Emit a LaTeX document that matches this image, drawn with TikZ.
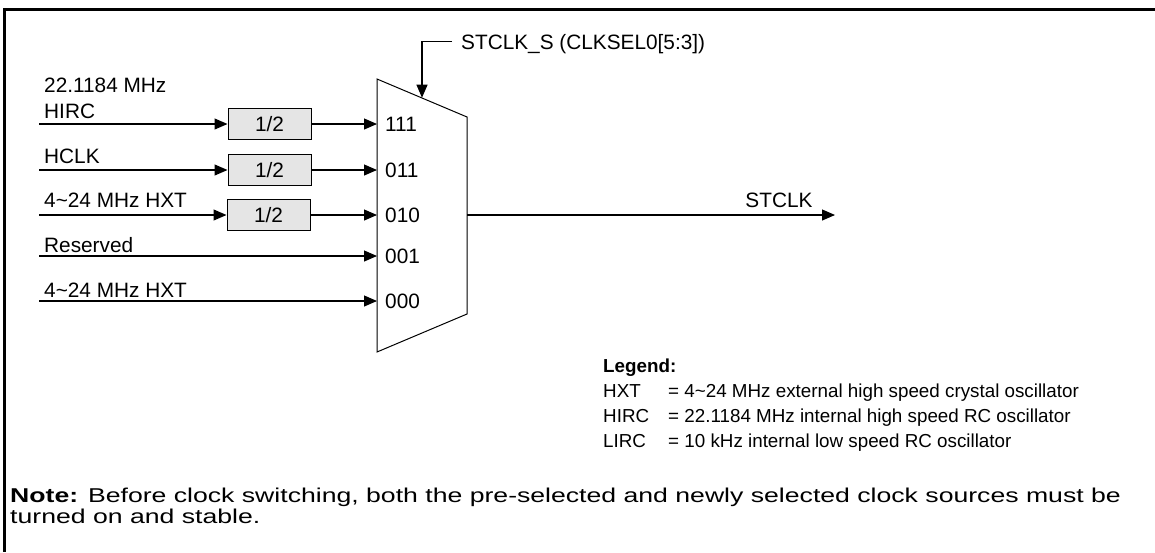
\documentclass[tikz,border=0pt]{standalone}
\usepackage{fontspec}
\setmainfont{Liberation Sans}
\usetikzlibrary{arrows.meta}
\begin{document}
\begin{tikzpicture}[x=1pt,y=-1pt,
  wire/.style={line width=1.1pt,-{Triangle[length=13pt,width=11pt]}},
  divbox/.style={draw,line width=1pt,fill=black!10,minimum width=83pt,minimum height=31pt,inner sep=0pt,font=\fontsize{20.8}{24}\selectfont},
  lbl/.style={anchor=base west,inner sep=0pt,font=\fontsize{20.8}{24}\selectfont},
  leg/.style={anchor=base west,inner sep=0pt,font=\fontsize{18.8}{23}\selectfont},
  note/.style={anchor=base west,inner sep=0pt,font=\fontsize{20}{24}\selectfont}]
\useasboundingbox (0,0) rectangle (1155,552);
% frame
\draw[line width=3pt] (4.5,9.5) -- (1155,9.5);
\draw[line width=3pt] (4.5,8) -- (4.5,552);
% mux
\coordinate (mtl) at (377,79);
\coordinate (mtr) at (467,117);
\coordinate (mbr) at (467,314);
\coordinate (mbl) at (377,352);
\draw[line width=1pt] (mtl) -- (mtr) -- (mbr) -- (mbl) -- cycle;
\coordinate (in111) at (377,124);
\coordinate (in011) at (377,170);
\coordinate (in010) at (377,215);
\coordinate (in001) at (377,256);
\coordinate (in000) at (377,301);
\coordinate (sel) at (422,97.7);
\coordinate (out) at (467,215);
% sources
\coordinate (s1) at (39,124);
\coordinate (s2) at (39,170);
\coordinate (s3) at (39,215);
\coordinate (s4) at (39,256);
\coordinate (s5) at (39,301);
\node[divbox] (d1) at (269.5,124) {1/2};
\node[divbox] (d2) at (269.5,170) {1/2};
\node[divbox] (d3) at (268.5,215) {1/2};
\draw[wire] (s1) -- (d1.west);
\draw[wire] (d1.east) -- (in111);
\draw[wire] (s2) -- (d2.west);
\draw[wire] (d2.east) -- (in011);
\draw[wire] (s3) -- (d3.west);
\draw[wire] (d3.east) -- (in010);
\draw[wire] (s4) -- (in001);
\draw[wire] (s5) -- (in000);
% labels
\node[lbl] (l1a) at (44,92) {22.1184 MHz};
\node[lbl] (l1b) at (44,118) {HIRC};
\node[lbl] (l2) at (44,163) {HCLK};
\node[lbl] (l3) at (44,207) {4\textasciitilde24 MHz HXT};
\node[lbl] (l4) at (44,252) {Reserved};
\node[lbl] (l5) at (44,297) {4\textasciitilde24 MHz HXT};
\node[lbl] (m1) at (385,131.5) {111};
\node[lbl] (m2) at (385,177.5) {011};
\node[lbl] (m3) at (385,222.5) {010};
\node[lbl] (m4) at (385,263.5) {001};
\node[lbl] (m5) at (385,308.5) {000};
% select
\node[lbl] (seltxt) at (461,49) {STCLK\_S (CLKSEL0[5:3])};
\coordinate (selc) at (452,41.7);
\draw[wire] (selc) -- (422,41.7) -- (sel);
% output
\coordinate (outend) at (835,215);
\draw[wire] (out) -- (outend);
\node[anchor=base,inner sep=0pt,font=\fontsize{20.8}{24}\selectfont] (outtxt) at (779,207) {STCLK};
% legend
\node[leg] (legt) at (603,372) {\bfseries Legend:};
\node[leg] (lg1) at (603,397) {HXT};
\node[leg] (lg1d) at (668,397) {= 4\textasciitilde24 MHz external high speed crystal oscillator};
\node[leg] (lg2) at (603,422) {HIRC};
\node[leg] (lg2d) at (668,422) {= 22.1184 MHz internal high speed RC oscillator};
\node[leg] (lg3) at (603,447) {LIRC};
\node[leg] (lg3d) at (668,447) {= 10 kHz internal low speed RC oscillator};
% note
\node[note] (n1) at (10,502) {\scalebox{1.331}[1]{\textbf{Note:} Before clock switching, both the pre-selected and newly selected clock sources must be}};
\node[note] (n2) at (10,523) {\scalebox{1.331}[1]{turned on and stable.}};
\end{tikzpicture}
\end{document}
